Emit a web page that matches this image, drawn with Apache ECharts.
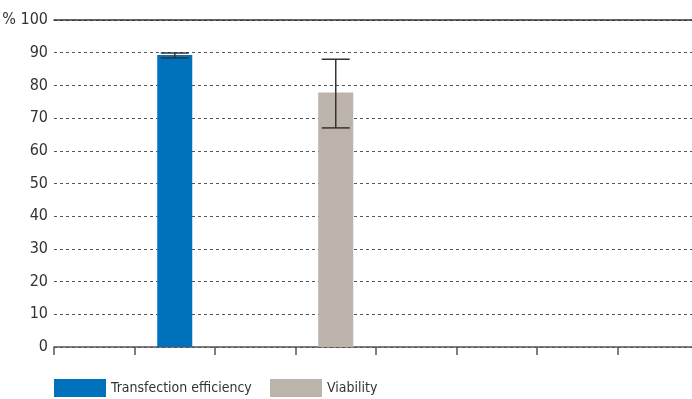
<!DOCTYPE html>
<html>
<head>
<meta charset="utf-8">
<script src="https://cdn.jsdelivr.net/npm/echarts@6/dist/echarts.min.js"></script>
<style>
  html, body { margin: 0; padding: 0; background: #fff; }
  #chart { width: 692px; height: 399px; }
</style>
</head>
<body>
<div id="chart"></div>
<script>
// Eight slots along the x axis; the two measured bars sit in slots 2 and 4.
const slots = ['', 'Transfection efficiency', '', 'Viability', '', '', '', ''];
const seriesNames = ['Transfection efficiency', 'Viability'];
const slotIndex = [1, 3];
const means = [89.3, 77.8];
const errLow = [88.4, 67.0];
const errHigh = [89.9, 88.0];
const yTicks = [0, 10, 20, 30, 40, 50, 60, 70, 80, 90, 100];
const colors = ['#0072bc', '#bcb3aa'];

const FONT = '"Liberation Sans Narrow", "DejaVu Sans Condensed", "Roboto", sans-serif';

function slotData(i) {
  return slots.map((_, k) => (k === slotIndex[i] ? means[i] : '-'));
}

const errData = slotIndex.map((s, i) => [s, errLow[i], errHigh[i]]);

const chart = echarts.init(document.getElementById('chart'), null, { renderer: 'canvas' });

const legendBase = {
  top: 379, padding: 0,
  icon: 'rect', itemWidth: 52, itemHeight: 18,
  textStyle: { fontFamily: FONT, fontSize: 14, color: '#333', padding: [0, 0, 0, 0] }
};

chart.setOption({
  animation: false,
  backgroundColor: '#ffffff',
  textStyle: { fontFamily: FONT },
  grid: {
    left: 54, right: -6, top: 20, bottom: 52,
    containLabel: false, outerBoundsMode: 'none'
  },
  legend: [
    Object.assign({ data: [seriesNames[0]], left: 54 }, legendBase),
    Object.assign({ data: [seriesNames[1]], left: 270 }, legendBase)
  ],
  xAxis: [
    {
      type: 'category',
      data: slots,
      boundaryGap: true,
      axisLine: { lineStyle: { color: '#555', width: 1.5 } },
      axisTick: { show: true, length: 8, interval: 0, lineStyle: { color: '#555', width: 1.5 } },
      axisLabel: { show: false },
      splitLine: { show: false }
    },
    {
      type: 'category',
      data: slots,
      position: 'top',
      axisLine: { show: true, lineStyle: { color: '#333', width: 1.5 } },
      axisTick: { show: false },
      axisLabel: { show: false },
      splitLine: { show: false }
    }
  ],
  yAxis: {
    type: 'value',
    min: 0, max: 100, interval: 10,
    axisLine: { show: false },
    axisTick: { show: false },
    axisLabel: {
      margin: 6,
      fontFamily: FONT, fontSize: 16, color: '#333',
      formatter: v => (v === yTicks[yTicks.length - 1] ? '% ' + v : String(v))
    },
    splitLine: { show: true, lineStyle: { color: '#555', type: [3, 3], width: 1 } }
  },
  series: [
    {
      name: seriesNames[0], type: 'bar', data: slotData(0),
      barWidth: 35, barGap: '-100%',
      itemStyle: { color: colors[0] }, z: 3
    },
    {
      name: seriesNames[1], type: 'bar', data: slotData(1),
      barWidth: 35, barGap: '-100%',
      itemStyle: { color: colors[1] }, z: 3
    },
    {
      name: 'error', type: 'custom', data: errData, z: 5,
      renderItem: function (params, api) {
        const x = api.value(0);
        const lo = api.coord([x, api.value(1)]);
        const hi = api.coord([x, api.value(2)]);
        const half = 14;
        const style = { stroke: '#333', lineWidth: 1.5 };
        return {
          type: 'group',
          children: [
            { type: 'line', shape: { x1: lo[0], y1: lo[1], x2: hi[0], y2: hi[1] }, style },
            { type: 'line', shape: { x1: hi[0] - half, y1: hi[1], x2: hi[0] + half, y2: hi[1] }, style },
            { type: 'line', shape: { x1: lo[0] - half, y1: lo[1], x2: lo[0] + half, y2: lo[1] }, style }
          ]
        };
      }
    }
  ]
});
</script>
</body>
</html>
